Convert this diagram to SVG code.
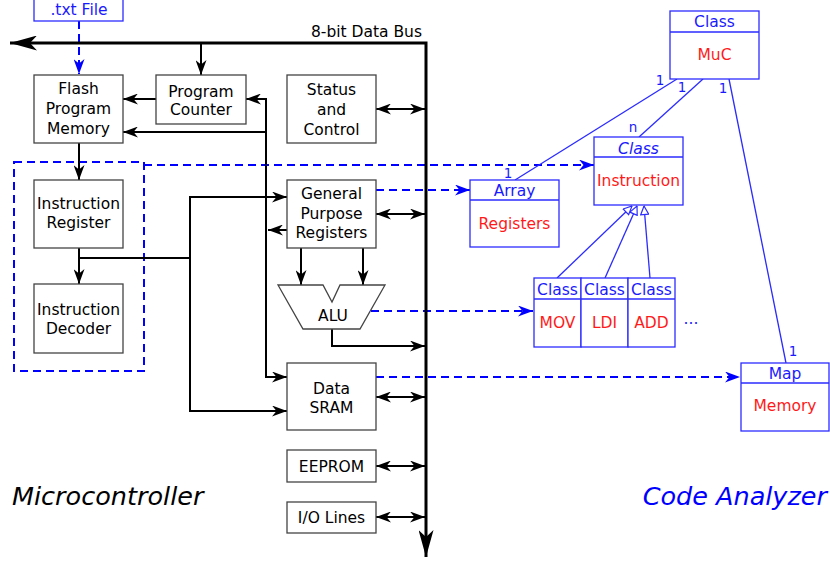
<svg xmlns="http://www.w3.org/2000/svg" width="830" height="561" viewBox="0 0 830 561">
<style>
text{font-family:"DejaVu Sans","Liberation Sans",sans-serif;font-size:15.5px;text-anchor:middle}
.box{fill:#fff;stroke:#444;stroke-width:1.3}
.ubox{fill:#fff;stroke:#2b2bff;stroke-width:1.3}
.ul{stroke:#2b2bff;stroke-width:1.3;fill:none}
.w{stroke:#000;stroke-width:2;fill:none}
.d{stroke:#0000ff;stroke-width:2;fill:none;stroke-dasharray:8,5}
.b{fill:#1a1aff}
.r{fill:#ff1a1a}
.m{font-size:13.5px}
</style>
<defs>
<marker id="ah" markerUnits="userSpaceOnUse" viewBox="0 0 15 11" refX="15" refY="5.5" markerWidth="15" markerHeight="11" orient="auto-start-reverse"><path d="M0,0 L15,5.5 L0,11 L4.5,5.5 Z" fill="#000"/></marker>
<marker id="bh" markerUnits="userSpaceOnUse" viewBox="0 0 27 15" refX="27" refY="7.5" markerWidth="27" markerHeight="15" orient="auto-start-reverse"><path d="M0,0 L27,7.5 L0,15 L7,7.5 Z" fill="#000"/></marker>
<marker id="blh" markerUnits="userSpaceOnUse" viewBox="0 0 15 11" refX="15" refY="5.5" markerWidth="15" markerHeight="11" orient="auto"><path d="M0,0 L15,5.5 L0,11 L4.5,5.5 Z" fill="#0000ff"/></marker>
<marker id="tri" markerUnits="userSpaceOnUse" viewBox="0 0 10 9" refX="9.5" refY="4.5" markerWidth="10" markerHeight="9" orient="auto"><path d="M1,0.5 L9.5,4.5 L1,8.5 Z" fill="#fff" stroke="#2b2bff" stroke-width="1.2"/></marker>
</defs>

<g id="connectors">
<rect x="14" y="162" width="130" height="209" class="d"/>
<path class="d" d="M79,21 V74" marker-end="url(#blh)"/>
<path class="d" d="M144,165 H594" marker-end="url(#blh)"/>
<path class="d" d="M376,190 H470" marker-end="url(#blh)"/>
<path class="d" d="M371,311 H533" marker-end="url(#blh)"/>
<path class="d" d="M376,377 H740" marker-end="url(#blh)"/>

<path d="M10,43 H426 V557" stroke="#000" stroke-width="3" fill="none" marker-start="url(#bh)" marker-end="url(#bh)"/>
<path class="w" d="M201,43 V75" marker-end="url(#ah)"/>
<path class="w" d="M156,99 H123" marker-end="url(#ah)"/>
<path class="w" d="M246,99 H266 V377 H287" marker-start="url(#ah)" marker-end="url(#ah)"/>
<path class="w" d="M266,132 H123" marker-end="url(#ah)"/>
<path class="w" d="M287,230 H268" marker-end="url(#ah)"/>
<path class="w" d="M79,143 V180" marker-end="url(#ah)"/>
<path class="w" d="M79,248 V284" marker-end="url(#ah)"/>
<path class="w" d="M79,258 H190"/>
<path class="w" d="M287,197 H190 V411 H287" marker-start="url(#ah)" marker-end="url(#ah)"/>
<path class="w" d="M301,248 V285" marker-end="url(#ah)"/>
<path class="w" d="M363,248 V285" marker-end="url(#ah)"/>
<path class="w" d="M332,329 V346 H425" marker-end="url(#ah)"/>
<path class="w" d="M376,109 H425" marker-start="url(#ah)" marker-end="url(#ah)"/>
<path class="w" d="M376,214 H425" marker-start="url(#ah)" marker-end="url(#ah)"/>
<path class="w" d="M376,397 H425" marker-start="url(#ah)" marker-end="url(#ah)"/>
<path class="w" d="M376,466 H425" marker-start="url(#ah)" marker-end="url(#ah)"/>
<path class="w" d="M376,517 H425" marker-start="url(#ah)" marker-end="url(#ah)"/>

<path class="ul" d="M677,79 L515,180"/>
<path class="ul" d="M703,79 L639,137"/>
<path class="ul" d="M729,79 L786,363"/>
<path class="ul" d="M557,278 L632,206" marker-end="url(#tri)"/>
<path class="ul" d="M605,278 L637,206" marker-end="url(#tri)"/>
<path class="ul" d="M650,278 L644,206" marker-end="url(#tri)"/>
<text x="660" y="85" class="b m">1</text>
<text x="508" y="178" class="b m">1</text>
<text x="682" y="92" class="b m">1</text>
<text x="633" y="132" class="b m">n</text>
<text x="723" y="93" class="b m">1</text>
<text x="793" y="356" class="b m">1</text>
<text x="422" y="37" style="text-anchor:end">8-bit Data Bus</text>
</g>

<g id="txtfile"><rect x="34" y="-2" width="89" height="23" class="ubox"/><text x="79" y="15" class="b">.txt File</text></g>
<g id="flash"><rect x="34" y="75" width="89" height="68" class="box"/><text x="78.5" y="93.5">Flash</text><text x="78.5" y="113.5">Program</text><text x="78.5" y="133.5">Memory</text></g>
<g id="pc"><rect x="156" y="75" width="90" height="49" class="box"/><text x="201" y="96.5">Program</text><text x="201" y="114.5">Counter</text></g>
<g id="status"><rect x="287" y="75" width="89" height="68" class="box"/><text x="331.5" y="94.5">Status</text><text x="331.5" y="114.5">and</text><text x="331.5" y="134.5">Control</text></g>
<g id="ir"><rect x="34" y="180" width="89" height="68" class="box"/><text x="78.5" y="208.5">Instruction</text><text x="78.5" y="227.5">Register</text></g>
<g id="id"><rect x="34" y="284" width="89" height="69" class="box"/><text x="78.5" y="314.5">Instruction</text><text x="78.5" y="333.5">Decoder</text></g>
<g id="gpr"><rect x="287" y="180" width="89" height="68" class="box"/><text x="331.5" y="198.5">General</text><text x="331.5" y="218.5">Purpose</text><text x="331.5" y="237.5">Registers</text></g>
<g id="alu"><polygon points="278,285 323,285 332,302 340,285 385,285 360,329 303,329" class="box"/><text x="333" y="320.5">ALU</text></g>
<g id="sram"><rect x="287" y="363" width="89" height="67" class="box"/><text x="331.5" y="393.5">Data</text><text x="331.5" y="412.5">SRAM</text></g>
<g id="eeprom"><rect x="287" y="450" width="89" height="32" class="box"/><text x="331.5" y="471.5">EEPROM</text></g>
<g id="io"><rect x="287" y="502" width="89" height="31" class="box"/><text x="331.5" y="522.5">I/O Lines</text></g>

<g id="muc"><rect x="670" y="11" width="89" height="68" class="ubox"/><line x1="670" y1="32" x2="759" y2="32" class="ul"/><text x="714.5" y="26.5" class="b">Class</text><text x="714.5" y="59.5" class="r">MuC</text></g>
<g id="instruction"><rect x="594" y="137" width="89" height="68" class="ubox"/><line x1="594" y1="157" x2="683" y2="157" class="ul"/><text x="638.5" y="153.5" class="b" font-style="italic">Class</text><text x="638.5" y="185.5" class="r">Instruction</text></g>
<g id="array"><rect x="470" y="180" width="89" height="67" class="ubox"/><line x1="470" y1="200" x2="559" y2="200" class="ul"/><text x="514.5" y="195.5" class="b">Array</text><text x="514.5" y="228.5" class="r">Registers</text></g>
<g id="mov"><rect x="534" y="278" width="47" height="69" class="ubox"/><line x1="534" y1="299" x2="581" y2="299" class="ul"/><text x="557.5" y="294.5" class="b">Class</text><text x="557.5" y="327.5" class="r">MOV</text></g>
<g id="ldi"><rect x="581" y="278" width="47" height="69" class="ubox"/><line x1="581" y1="299" x2="628" y2="299" class="ul"/><text x="604.5" y="294.5" class="b">Class</text><text x="604.5" y="327.5" class="r">LDI</text></g>
<g id="add"><rect x="628" y="278" width="47" height="69" class="ubox"/><line x1="628" y1="299" x2="675" y2="299" class="ul"/><text x="651.5" y="294.5" class="b">Class</text><text x="651.5" y="327.5" class="r">ADD</text></g>
<text x="691" y="324" class="b" font-size="12px">...</text>
<g id="map"><rect x="741" y="363" width="88" height="68" class="ubox"/><line x1="741" y1="383" x2="829" y2="383" class="ul"/><text x="785" y="378.5" class="b">Map</text><text x="785" y="410.5" class="r">Memory</text></g>

<text x="12" y="505" style="text-anchor:start;font-size:25.5px;font-style:italic">Microcontroller</text>
<text x="827" y="505" style="text-anchor:end;font-size:25.5px;font-style:italic" fill="#0000ff">Code Analyzer</text>
</svg>
